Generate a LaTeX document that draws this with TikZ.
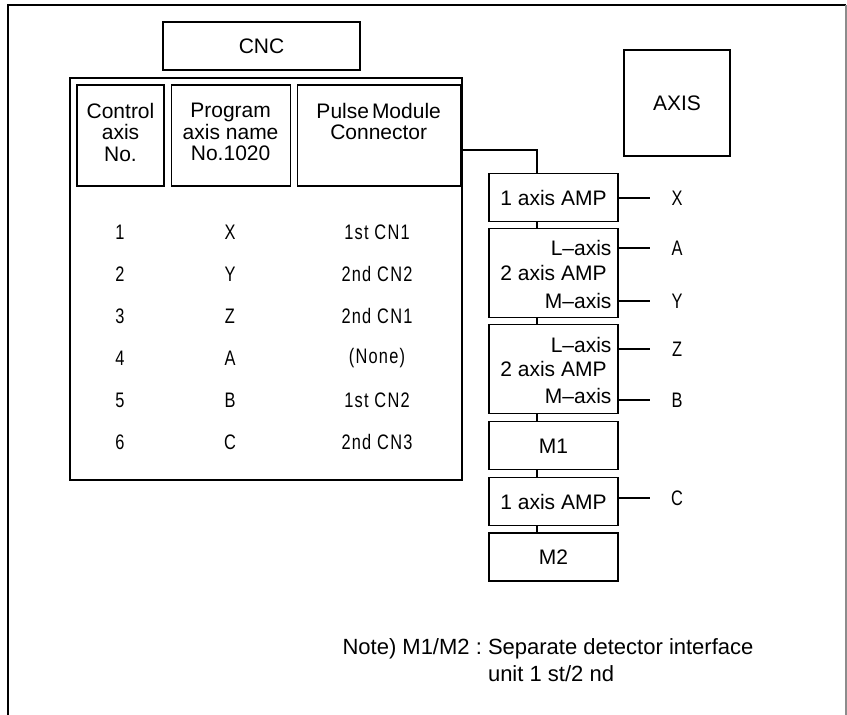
\documentclass[tikz,border=0pt]{standalone}
\usepackage{fontspec}
\setmainfont{Liberation Sans}
\newfontfamily\cadfont[FakeStretch=0.78,LetterSpace=6]{Liberation Sans}
\usetikzlibrary{positioning}

\begin{document}
\begin{tikzpicture}[x=1pt, y=-1pt, line width=1.1pt, node distance=7pt,
  box/.style={draw, rectangle, inner sep=0pt, align=center, font=\fontsize{21}{22}\selectfont},
  cell/.style={draw, rectangle, minimum height=101pt},
  hdr/.style={inner sep=0pt, align=center, font=\fontsize{21}{21.5}\selectfont},
  entry/.style={inner sep=0pt, font=\cadfont\fontsize{21}{22}\selectfont},
  amp/.style={box, minimum width=129pt, minimum height=48pt},
  ampwide/.style={amp, minimum height=89pt},
  tag/.style={anchor=east, inner sep=0pt, font=\fontsize{21}{22}\selectfont},
  axlbl/.style={entry, minimum width=52pt}]
\useasboundingbox (0,0) rectangle (847,715);
% Frame
\draw[line width=1.6pt] (8,715) -- (8,5) -- (846,5);
\draw[line width=1.2pt, black!45] (846,5) -- (846,715);

% CNC side
\node[box, minimum width=197pt, minimum height=48pt] (cnc) at (261.5,46) {CNC};
\node[box, minimum width=392pt, minimum height=402pt] (table) at (266,279) {};
\node[cell, minimum width=87pt] (ctrl) at (120.5,135.5) {};
\node[cell, minimum width=119pt, right=6pt of ctrl] (prog) {};
\node[cell, minimum width=163pt, right=6pt of prog] (pulse) {};
\node[hdr] (ctrltxt) at (ctrl |- 0,132) {Control\\axis\\No.};
\node[hdr] (progtxt) at (prog |- 0,132) {Program\\axis name\\No.1020};
\node[hdr] (pulsetxt) at (pulse |- 0,121.5) {Pulse\hspace{3pt}Module\\Connector};

% Table rows
\foreach \no/\name/\conn [count=\i] in {1/X/1st CN1, 2/Y/2nd CN2, 3/Z/2nd CN1, 4/A/(None), 5/B/1st CN2, 6/C/2nd CN3} {
  \node[entry] (no\i) at (120,{190+42*\i}) {\no};
  \node[entry] (name\i) at (230,{190+42*\i}) {\name};
  \node[entry] (conn\i) at (377,{190+42*\i}) {\conn};
}

% AXIS side
\node[box, minimum width=106pt, minimum height=106pt] (axis) at (677,103) {AXIS};
\node[amp] (amp1) at (553.5,197.5) {1 axis AMP};
\node[ampwide, below=6pt of amp1] (amp2) {2 axis AMP};
\node[ampwide, below=6pt of amp2] (amp3) {2 axis AMP};
\node[amp, below=7pt of amp3] (m1) {M1};
\node[amp, below=7pt of m1] (amp4) {1 axis AMP};
\node[amp, below=6pt of amp4] (m2) {M2};

% L/M axis tags
\node[tag] (ltag2) at (612,248) {L--axis};
\node[tag] (mtag2) at (612,301) {M--axis};
\node[tag] (ltag3) at (612,345) {L--axis};
\node[tag] (mtag3) at (612,396) {M--axis};

% Axis names
\node[axlbl] (axX) at (677,198) {X};
\node[axlbl] (axA) at (677,248) {A};
\node[axlbl] (axY) at (677,301) {Y};
\node[axlbl] (axZ) at (677,349) {Z};
\node[axlbl] (axB) at (677,400) {B};
\node[axlbl] (axC) at (677,498) {C};
\foreach \b/\a in {amp1/axX, amp2/axA, amp2/axY, amp3/axZ, amp3/axB, amp4/axC}
  \draw (\b.east |- \a) -- (\a.west);

% Connections
\coordinate (tap) at (462,150);
\coordinate (bus) at (537,0);
\draw (tap) -| (bus |- amp1.north);
\foreach \a/\b in {amp1/amp2, amp2/amp3, amp3/m1, m1/amp4, amp4/m2}
  \draw (bus |- \a.south) -- (bus |- \b.north);

% Note
\node[anchor=west, inner sep=0pt, font=\fontsize{22}{27}\selectfont] (note) at (342,663)
  {\begin{tabular}{@{}l@{}l@{}}Note) M1/M2 :~ & Separate detector interface\\ & unit 1 st/2 nd\end{tabular}};
\end{tikzpicture}
\end{document}
